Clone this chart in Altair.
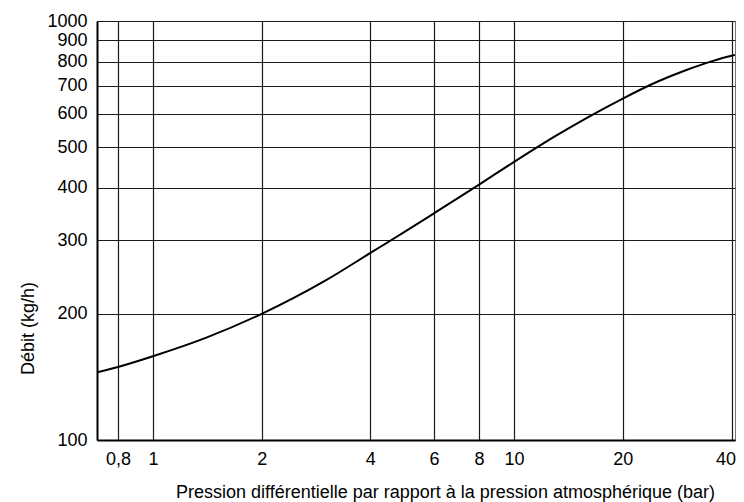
import altair as alt
import pandas as pd

# Data
pression = [0.7, 0.8, 1, 1.4, 2, 3, 4, 5, 6, 8, 10, 13, 16, 20, 25, 30, 35, 40, 42]
debit = [145, 149.4, 158.5, 175.3, 200, 240, 279.5, 314.6, 347.5, 407, 461, 531, 589, 653, 717, 764, 800, 826, 833]

x_ticks = [0.8, 1, 2, 4, 6, 8, 10, 20, 40]
y_ticks = [100, 200, 300, 400, 500, 600, 700, 800, 900, 1000]

df = pd.DataFrame({"pression": pression, "debit": debit})

FONT = "Liberation Sans"

chart = (
    alt.Chart(df)
    .mark_line(color="black", strokeWidth=2, interpolate="monotone", clip=True)
    .encode(
        x=alt.X(
            "pression:Q",
            scale=alt.Scale(type="log", domain=[0.7, 40.9], nice=False),
            axis=alt.Axis(
                values=x_ticks,
                labelExpr="replace(toString(datum.value), '.', ',')",
                title="Pression différentielle par rapport à la pression atmosphérique (bar)",
                titleX=348,
                titleY=57,
                titleAlign="center",
                titleBaseline="alphabetic",
                labelBaseline="alphabetic",
                labelPadding=24,
                labelFlush=10,
                labelFlushOffset=4,
                labelOverlap=False,
            ),
        ),
        y=alt.Y(
            "debit:Q",
            scale=alt.Scale(type="log", domain=[100, 1000], nice=False),
            axis=alt.Axis(
                values=y_ticks,
                format="d",
                title="Débit (kg/h)",
                titleX=-64,
                titleY=307,
                titleAlign="center",
                titleBaseline="alphabetic",
                labelPadding=10,
                labelFlush=False,
                labelOverlap=False,
            ),
        ),
    )
    .properties(
        width=638,
        height=419,
        autosize=alt.AutoSizeParams(type="none"),
        padding={"left": 89, "top": 13, "right": 1, "bottom": 62},
    )
    .configure_view(stroke="#777777", strokeWidth=1)
    .configure_axis(
        grid=True,
        gridColor="#1a1a1a",
        gridWidth=1.2,
        gridOpacity=1,
        domain=True,
        domainColor="black",
        domainWidth=2,
        ticks=False,
        tickSize=0,
        labelFont=FONT,
        labelFontSize=18,
        labelColor="black",
        titleFont=FONT,
        titleFontSize=18,
        titleFontWeight="normal",
        titleColor="black",
    )
)

chart.save("out.html", embed_options={"renderer": "svg", "actions": False})
